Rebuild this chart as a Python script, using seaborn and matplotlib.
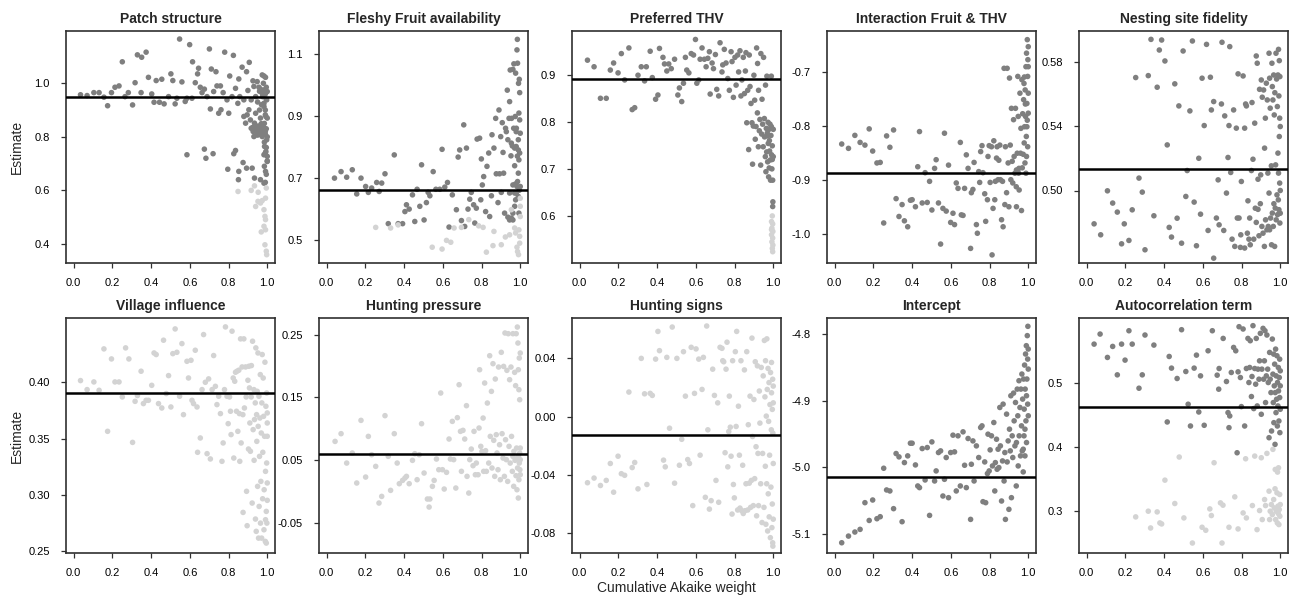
import pandas as pd
import matplotlib
matplotlib.use("Agg")
import matplotlib.pyplot as plt
import seaborn as sns

# (cumulative Akaike weight, estimate) pairs
patch_dark = [
    (0.035, 0.957), (0.069, 0.954), (0.104, 0.965), (0.131, 0.965), (0.156, 0.948), (0.175, 0.916),
    (0.195, 0.965), (0.213, 0.985), (0.234, 0.99), (0.251, 1.08), (0.265, 0.95), (0.282, 0.965),
    (0.304, 0.919), (0.317, 1.002), (0.329, 1.106), (0.351, 1.097), (0.374, 1.116), (0.348, 0.965),
    (0.386, 1.022), (0.403, 0.96), (0.415, 0.929), (0.426, 1.01), (0.443, 0.929), (0.455, 1.015),
    (0.467, 0.923), (0.49, 0.95), (0.502, 1.035), (0.512, 1.01), (0.524, 0.923), (0.533, 0.944),
    (0.547, 1.165), (0.559, 1.005), (0.576, 0.932), (0.585, 0.944), (0.599, 1.144), (0.611, 0.944),
    (0.614, 1.08), (0.628, 1.002), (0.64, 1.035), (0.645, 1.056), (0.654, 0.985), (0.663, 0.965),
    (0.675, 0.978), (0.689, 0.95), (0.701, 1.128), (0.706, 0.904), (0.711, 1.053), (0.723, 0.969),
    (0.735, 1.043), (0.74, 0.99), (0.749, 0.888), (0.758, 0.99), (0.761, 0.901), (0.772, 0.965),
    (0.78, 1.116), (0.792, 0.938), (0.801, 0.888), (0.806, 1.027), (0.818, 0.95), (0.825, 1.104),
    (0.836, 0.981), (0.848, 0.925), (0.853, 1.016), (0.858, 0.95), (0.87, 1.06), (0.879, 0.938),
    (0.893, 1.043), (0.9, 0.973), (0.907, 1.078), (0.917, 0.938), (0.926, 1.009), (0.931, 0.988),
    (0.94, 0.95), (0.948, 1.006), (0.957, 0.985), (0.965, 0.978), (0.974, 1.031), (0.983, 1.027),
    (0.991, 1.022), (0.995, 0.985), (1.0, 0.969),
    (0.585, 0.733), (0.675, 0.754), (0.683, 0.72), (0.72, 0.737), (0.796, 0.679), (0.827, 0.737),
    (0.836, 0.749), (0.853, 0.671), (0.851, 0.64), (0.875, 0.704), (0.893, 0.683), (0.922, 0.683),
    (0.934, 0.646), (0.965, 0.64), (0.983, 0.627), (0.991, 0.671), (0.983, 0.733),
    (0.879, 0.876), (0.888, 0.851), (0.896, 0.882), (0.905, 0.901), (0.913, 0.863), (0.917, 0.832),
    (0.927, 0.82), (0.934, 0.851), (0.94, 0.888), (0.948, 0.839), (0.952, 0.807), (0.962, 0.816),
    (0.965, 0.87), (0.974, 0.801), (0.979, 0.839), (0.983, 0.913), (0.986, 0.764), (0.99, 0.82),
    (0.993, 0.876), (0.997, 0.938), (0.997, 0.789), (1.0, 0.727), (1.0, 0.708), (0.993, 0.745),
    (0.983, 0.925), (0.976, 0.95), (0.983, 0.975), (0.99, 0.882), (0.969, 0.849), (0.958, 0.829),
    (0.945, 0.807), (0.931, 0.801),
    (0.99, 0.96), (0.995, 0.94), (0.99, 0.9), (1.0, 0.87), (0.985, 0.85), (0.995, 0.83),
    (0.99, 0.81), (1.0, 0.8), (0.985, 0.78), (0.995, 0.76), (0.99, 0.74), (1.0, 0.71),
    (0.985, 0.69), (0.995, 0.66), (0.99, 0.63), (0.975, 0.82), (0.965, 0.83), (0.955, 0.84),
    (0.945, 0.82), (0.935, 0.83), (0.925, 0.835), (0.96, 0.9), (0.97, 0.92), (0.95, 0.93),
    (0.98, 1.0), (0.975, 0.96), (0.96, 0.97),
]
patch_light = [
    (0.849, 0.596), (0.917, 0.6), (0.934, 0.617), (0.953, 0.593), (0.94, 0.54), (0.952, 0.559),
    (0.965, 0.553), (0.974, 0.562), (0.983, 0.528), (0.991, 0.571), (0.995, 0.609), (0.988, 0.503),
    (0.991, 0.491), (0.983, 0.466), (0.991, 0.453), (0.988, 0.397), (0.995, 0.373), (0.997, 0.36),
    (0.969, 0.445),
]

fruit_dark = [
    (0.04, 0.699), (0.074, 0.72), (0.103, 0.702), (0.132, 0.726), (0.155, 0.648), (0.177, 0.699),
    (0.201, 0.672), (0.215, 0.653), (0.232, 0.667), (0.258, 0.685), (0.271, 0.656), (0.284, 0.683),
    (0.301, 0.713), (0.318, 0.552), (0.349, 0.774), (0.369, 0.552), (0.392, 0.552), (0.404, 0.591),
    (0.412, 0.613), (0.426, 0.599), (0.443, 0.645), (0.455, 0.559), (0.467, 0.663), (0.481, 0.608),
    (0.49, 0.742), (0.503, 0.564), (0.515, 0.62), (0.524, 0.653), (0.533, 0.642), (0.55, 0.72),
    (0.564, 0.663), (0.584, 0.663), (0.596, 0.792), (0.61, 0.67), (0.624, 0.685), (0.632, 0.541),
    (0.649, 0.645), (0.67, 0.597), (0.679, 0.767), (0.687, 0.79), (0.696, 0.562), (0.708, 0.871),
    (0.713, 0.543), (0.722, 0.796), (0.73, 0.599), (0.739, 0.631), (0.747, 0.653), (0.759, 0.613),
    (0.765, 0.554), (0.773, 0.602), (0.777, 0.825), (0.79, 0.828), (0.796, 0.629), (0.799, 0.761),
    (0.804, 0.677), (0.811, 0.704), (0.821, 0.591), (0.828, 0.737), (0.837, 0.78), (0.842, 0.575),
    (0.851, 0.642), (0.854, 0.839), (0.864, 0.796), (0.873, 0.892), (0.876, 0.713), (0.885, 0.62),
    (0.89, 0.919), (0.893, 0.713), (0.899, 0.833), (0.902, 0.653), (0.907, 0.878), (0.911, 0.782),
    (0.914, 0.715), (0.919, 0.586), (0.924, 0.86), (0.928, 0.849), (0.933, 0.983), (0.936, 0.823),
    (0.942, 0.892), (0.945, 0.946), (0.948, 1.048), (0.952, 0.771), (0.955, 0.892), (0.959, 0.803),
    (0.962, 1.05), (0.966, 0.86), (0.967, 1.068), (0.971, 0.739), (0.974, 0.898), (0.976, 1.038),
    (0.979, 0.849), (0.983, 1.113), (0.985, 1.147), (0.986, 1.07), (0.99, 0.823), (0.991, 1.005),
    (0.995, 1.018), (0.997, 0.975), (0.993, 0.909), (0.997, 0.887), (1.0, 0.844), (0.997, 0.78),
    (0.993, 0.758), (0.99, 0.715), (0.986, 0.688), (0.983, 0.672), (0.979, 0.651), (0.976, 0.629),
    (0.971, 0.608), (0.962, 0.586), (0.954, 0.57), (0.945, 0.564), (0.936, 0.573), (0.962, 0.564),
    (0.993, 0.586), (1.0, 0.672), (0.971, 0.796), (0.979, 0.801), (0.962, 0.677), (0.954, 0.812),
    (0.945, 0.651), (0.971, 0.651), (0.985, 0.77), (0.99, 0.79), (0.98, 0.86), (0.995, 0.66),
    (0.99, 0.64), (0.975, 0.68),
]
fruit_light = [
    (0.253, 0.54), (0.33, 0.538), (0.369, 0.548), (0.545, 0.476), (0.596, 0.47), (0.619, 0.498),
    (0.641, 0.492), (0.658, 0.538), (0.696, 0.54), (0.734, 0.565), (0.785, 0.545), (0.808, 0.54),
    (0.825, 0.46), (0.859, 0.481), (0.864, 0.527), (0.902, 0.484), (0.923, 0.509), (0.945, 0.516),
    (0.954, 0.597), (0.971, 0.538), (0.976, 0.522), (0.983, 0.476), (0.986, 0.462), (0.991, 0.452),
    (0.997, 0.489), (0.993, 0.532), (0.997, 0.511), (1.0, 0.575), (1.0, 0.608), (1.0, 0.634),
]

thv_dark = [
    (0.04, 0.931), (0.074, 0.917), (0.107, 0.85), (0.137, 0.85), (0.158, 0.91), (0.175, 0.925),
    (0.198, 0.904), (0.215, 0.945), (0.232, 0.889), (0.254, 0.957), (0.271, 0.826), (0.284, 0.83),
    (0.301, 0.899), (0.318, 0.917), (0.335, 0.887), (0.344, 0.917), (0.364, 0.95), (0.375, 0.894),
    (0.392, 0.848), (0.404, 0.857), (0.412, 0.956), (0.43, 0.937), (0.438, 0.923), (0.45, 0.908),
    (0.46, 0.923), (0.473, 0.913), (0.49, 0.933), (0.507, 0.857), (0.515, 0.872), (0.527, 0.843),
    (0.536, 0.882), (0.546, 0.937), (0.553, 0.91), (0.564, 0.904), (0.576, 0.945), (0.588, 0.942),
    (0.598, 0.975), (0.605, 0.882), (0.615, 0.889), (0.622, 0.933), (0.632, 0.957), (0.644, 0.933),
    (0.653, 0.917), (0.662, 0.935), (0.67, 0.949), (0.674, 0.859), (0.684, 0.925), (0.691, 0.913),
    (0.701, 0.943), (0.708, 0.869), (0.718, 0.855), (0.725, 0.968), (0.735, 0.906), (0.739, 0.921),
    (0.747, 0.954), (0.756, 0.925), (0.765, 0.892), (0.773, 0.867), (0.782, 0.949), (0.787, 0.928),
    (0.794, 0.852), (0.802, 0.937), (0.808, 0.878), (0.816, 0.942), (0.821, 0.906), (0.828, 0.951),
    (0.833, 0.855), (0.838, 0.889), (0.845, 0.937), (0.851, 0.86), (0.856, 0.908), (0.859, 0.947),
    (0.863, 0.798), (0.868, 0.867), (0.873, 0.741), (0.876, 0.942), (0.88, 0.875), (0.885, 0.839),
    (0.89, 0.798), (0.893, 0.71), (0.897, 0.791), (0.9, 0.899), (0.904, 0.846), (0.907, 0.763),
    (0.911, 0.79), (0.914, 0.957), (0.918, 0.819), (0.919, 0.924), (0.923, 0.747), (0.924, 0.867),
    (0.928, 0.781), (0.931, 0.805), (0.935, 0.708), (0.936, 0.945), (0.94, 0.774), (0.942, 0.848),
    (0.945, 0.795), (0.948, 0.747), (0.95, 0.937), (0.954, 0.807), (0.955, 0.768), (0.959, 0.726),
    (0.96, 0.878), (0.962, 0.694), (0.964, 0.786), (0.966, 0.736), (0.967, 0.897), (0.969, 0.776),
    (0.971, 0.715), (0.973, 0.799), (0.974, 0.754), (0.976, 0.683), (0.978, 0.784), (0.979, 0.702),
    (0.981, 0.738), (0.983, 0.795), (0.985, 0.719), (0.986, 0.676), (0.988, 0.771), (0.99, 0.897),
    (0.991, 0.73), (0.993, 0.7), (0.995, 0.749), (0.997, 0.676), (0.998, 0.63), (0.997, 0.62),
    (1.0, 0.784), (1.0, 0.726), (0.98, 0.76), (0.99, 0.79), (0.97, 0.77), (0.995, 0.72),
]
thv_light = [
    (0.995, 0.6), (0.991, 0.588), (0.997, 0.583), (0.993, 0.574), (0.998, 0.567), (0.991, 0.56),
    (0.997, 0.553), (0.993, 0.545), (0.998, 0.538), (0.995, 0.531), (0.997, 0.524), (0.991, 0.571),
]

inter_dark = [
    (0.036, -0.834), (0.071, -0.842), (0.104, -0.818), (0.131, -0.831), (0.156, -0.836), (0.178, -0.806),
    (0.196, -0.847), (0.218, -0.869), (0.235, -0.868), (0.253, -0.98), (0.268, -0.819), (0.285, -0.84),
    (0.304, -0.808), (0.317, -0.935), (0.332, -0.968), (0.348, -0.946), (0.36, -0.976), (0.377, -0.987),
    (0.391, -0.938), (0.4, -0.937), (0.417, -0.95), (0.429, -0.876), (0.438, -0.811), (0.452, -0.943),
    (0.467, -0.887), (0.478, -0.942), (0.49, -0.903), (0.502, -0.956), (0.516, -0.879), (0.524, -0.863),
    (0.536, -0.943), (0.547, -1.019), (0.559, -0.953), (0.567, -0.814), (0.576, -0.958), (0.588, -0.873),
    (0.599, -0.979), (0.611, -0.962), (0.619, -0.983), (0.628, -0.906), (0.637, -0.916), (0.649, -0.831),
    (0.654, -0.965), (0.663, -0.966), (0.671, -0.916), (0.68, -0.854), (0.689, -0.879), (0.702, -1.027),
    (0.706, -0.924), (0.714, -0.918), (0.72, -0.868), (0.732, -0.983), (0.737, -0.999), (0.744, -0.885),
    (0.749, -0.905), (0.754, -0.848), (0.761, -0.837), (0.766, -0.887), (0.775, -0.926), (0.78, -0.977),
    (0.789, -0.937), (0.792, -0.857), (0.798, -0.837), (0.803, -0.905), (0.81, -0.839), (0.813, -1.039),
    (0.818, -0.953), (0.822, -0.828), (0.827, -0.937), (0.83, -0.903), (0.836, -0.86), (0.839, -0.839),
    (0.844, -0.9), (0.848, -0.864), (0.853, -0.836), (0.856, -0.9), (0.862, -0.974), (0.867, -0.903),
    (0.87, -0.987), (0.875, -0.694), (0.879, -0.946), (0.882, -0.839), (0.888, -0.924), (0.891, -0.694),
    (0.896, -0.869), (0.9, -0.95), (0.903, -0.712), (0.907, -0.836), (0.91, -0.9), (0.913, -0.768),
    (0.917, -0.866), (0.92, -0.906), (0.924, -0.789), (0.927, -0.857), (0.931, -0.888), (0.934, -0.768),
    (0.938, -0.913), (0.939, -0.95), (0.943, -0.851), (0.946, -0.709), (0.948, -0.783), (0.952, -0.879),
    (0.953, -0.919), (0.957, -0.74), (0.96, -0.851), (0.962, -0.805), (0.965, -0.957), (0.967, -0.715),
    (0.969, -0.878), (0.971, -0.778), (0.974, -0.853), (0.976, -0.752), (0.978, -0.722), (0.979, -0.832),
    (0.981, -0.802), (0.983, -0.869), (0.984, -0.734), (0.986, -0.783), (0.988, -0.691), (0.99, -0.82),
    (0.991, -0.666), (0.993, -0.759), (0.995, -0.641), (0.997, -0.709), (0.998, -0.678), (1.0, -0.74),
    (0.997, -0.839), (0.991, -0.857), (0.988, -0.888), (0.993, -0.802), (1.0, -0.777), (1.0, -0.654),
    (1.0, -0.691), (0.95, -0.888), (0.939, -0.882), (0.985, -0.76), (0.995, -0.79), (0.98, -0.71),
]
inter_light = []

nest_dark = [
    (0.038, 0.4793), (0.072, 0.4725), (0.107, 0.4998), (0.134, 0.4922), (0.158, 0.4866), (0.18, 0.4669),
    (0.194, 0.4793), (0.218, 0.469), (0.235, 0.488), (0.253, 0.5701), (0.27, 0.5077), (0.287, 0.499),
    (0.301, 0.4632), (0.318, 0.5713), (0.332, 0.5938), (0.347, 0.4843), (0.364, 0.5641), (0.375, 0.5872),
    (0.387, 0.5934), (0.404, 0.5804), (0.416, 0.5283), (0.426, 0.4771), (0.438, 0.4711), (0.455, 0.5662),
    (0.467, 0.4828), (0.476, 0.5525), (0.49, 0.4673), (0.498, 0.5866), (0.512, 0.4963), (0.519, 0.5124),
    (0.533, 0.5494), (0.546, 0.5928), (0.555, 0.4928), (0.567, 0.4657), (0.579, 0.52), (0.588, 0.4853),
    (0.596, 0.5697), (0.607, 0.5403), (0.619, 0.5907), (0.627, 0.4752), (0.639, 0.5703), (0.644, 0.55),
    (0.656, 0.5552), (0.656, 0.458), (0.67, 0.4829), (0.679, 0.5066), (0.684, 0.4787), (0.696, 0.5537),
    (0.699, 0.592), (0.708, 0.4752), (0.713, 0.5463), (0.722, 0.4984), (0.73, 0.5205), (0.735, 0.5403),
    (0.739, 0.5893), (0.744, 0.5112), (0.751, 0.4698), (0.759, 0.55), (0.765, 0.4653), (0.773, 0.5387),
    (0.778, 0.4829), (0.782, 0.5724), (0.787, 0.4829), (0.794, 0.4647), (0.796, 0.4725), (0.799, 0.5056),
    (0.808, 0.5711), (0.816, 0.4643), (0.816, 0.5387), (0.821, 0.5537), (0.825, 0.5525), (0.83, 0.4735),
    (0.833, 0.4936), (0.838, 0.4698), (0.842, 0.4829), (0.845, 0.4663), (0.851, 0.5124), (0.854, 0.5546),
    (0.859, 0.5194), (0.863, 0.4698), (0.868, 0.5418), (0.871, 0.489), (0.876, 0.5835), (0.876, 0.4802),
    (0.881, 0.579), (0.885, 0.507), (0.885, 0.4883), (0.89, 0.4719), (0.893, 0.5628), (0.897, 0.4918),
    (0.899, 0.5097), (0.902, 0.5686), (0.905, 0.4777), (0.907, 0.5579), (0.911, 0.4735), (0.914, 0.5624),
    (0.918, 0.4653), (0.919, 0.5263), (0.923, 0.5449), (0.924, 0.4818), (0.928, 0.5666), (0.931, 0.4756),
    (0.933, 0.5562), (0.936, 0.5108), (0.938, 0.4777), (0.942, 0.5852), (0.942, 0.4984), (0.945, 0.5697),
    (0.945, 0.4756), (0.948, 0.5511), (0.95, 0.4829), (0.954, 0.5153), (0.955, 0.4663), (0.957, 0.579),
    (0.959, 0.5645), (0.959, 0.486), (0.962, 0.5562), (0.964, 0.4777), (0.966, 0.5717), (0.967, 0.4918),
    (0.969, 0.5469), (0.971, 0.4653), (0.972, 0.5607), (0.974, 0.4891), (0.976, 0.5159), (0.978, 0.5852),
    (0.979, 0.4818), (0.981, 0.5692), (0.983, 0.4973), (0.985, 0.5521), (0.986, 0.485), (0.988, 0.5717),
    (0.988, 0.5232), (0.99, 0.4942), (0.991, 0.5876), (0.991, 0.5108), (0.993, 0.5587), (0.993, 0.4881),
    (0.995, 0.5806), (0.995, 0.5335), (0.997, 0.5046), (0.997, 0.5449), (0.998, 0.4798), (0.998, 0.5707),
    (1.0, 0.5397), (1.0, 0.5), (1.0, 0.4859),
]
nest_light = []

village_dark = []
village_light = [
    (0.035, 0.4015), (0.069, 0.3935), (0.104, 0.4003), (0.131, 0.3929), (0.156, 0.4296), (0.175, 0.3565),
    (0.195, 0.4207), (0.213, 0.4003), (0.234, 0.4003), (0.251, 0.387), (0.268, 0.4305), (0.285, 0.4207),
    (0.304, 0.3467), (0.317, 0.3831), (0.329, 0.3882), (0.348, 0.4098), (0.36, 0.3811), (0.374, 0.384),
    (0.386, 0.384), (0.403, 0.3973), (0.415, 0.426), (0.426, 0.4246), (0.438, 0.3811), (0.455, 0.3772),
    (0.464, 0.4373), (0.478, 0.39), (0.49, 0.4059), (0.502, 0.3781), (0.512, 0.4254), (0.524, 0.4473),
    (0.533, 0.4266), (0.547, 0.3876), (0.559, 0.4343), (0.567, 0.3713), (0.585, 0.4186), (0.593, 0.4038),
    (0.606, 0.4195), (0.611, 0.384), (0.619, 0.3811), (0.628, 0.4284), (0.637, 0.3781), (0.64, 0.3379),
    (0.654, 0.3506), (0.663, 0.3935), (0.671, 0.4423), (0.68, 0.4), (0.689, 0.3367), (0.697, 0.403),
    (0.706, 0.332), (0.715, 0.3935), (0.723, 0.4237), (0.732, 0.3964), (0.74, 0.3802), (0.749, 0.3876),
    (0.758, 0.3722), (0.766, 0.3299), (0.772, 0.3462), (0.779, 0.3935), (0.784, 0.4491), (0.792, 0.3876),
    (0.798, 0.3633), (0.805, 0.387), (0.81, 0.3743), (0.813, 0.3536), (0.818, 0.4453), (0.824, 0.4038),
    (0.827, 0.3328), (0.832, 0.4009), (0.836, 0.4089), (0.841, 0.3743), (0.844, 0.4098), (0.848, 0.3565),
    (0.853, 0.4107), (0.856, 0.3722), (0.858, 0.3299), (0.862, 0.4385), (0.865, 0.3462), (0.87, 0.4136),
    (0.874, 0.3713), (0.875, 0.2846), (0.879, 0.4385), (0.882, 0.3772), (0.888, 0.4136), (0.891, 0.387),
    (0.893, 0.3033), (0.896, 0.2728), (0.9, 0.4018), (0.903, 0.3408), (0.905, 0.4142), (0.908, 0.395),
    (0.91, 0.3639), (0.913, 0.3388), (0.917, 0.387), (0.918, 0.4148), (0.922, 0.2929), (0.924, 0.4364),
    (0.927, 0.358), (0.931, 0.3935), (0.932, 0.3308), (0.934, 0.3669), (0.938, 0.3817), (0.939, 0.2787),
    (0.941, 0.4305), (0.943, 0.2678), (0.945, 0.3713), (0.946, 0.3476), (0.948, 0.392), (0.95, 0.3077),
    (0.952, 0.426), (0.953, 0.3609), (0.955, 0.2618), (0.957, 0.3876), (0.958, 0.2899), (0.96, 0.3343),
    (0.962, 0.3683), (0.964, 0.4068), (0.965, 0.2751), (0.967, 0.3121), (0.969, 0.355), (0.971, 0.2618),
    (0.972, 0.3817), (0.974, 0.4246), (0.976, 0.2967), (0.977, 0.3379), (0.979, 0.4038), (0.981, 0.3698),
    (0.983, 0.2692), (0.984, 0.3047), (0.986, 0.3521), (0.988, 0.4178), (0.99, 0.2589), (0.991, 0.321),
    (0.993, 0.3787), (0.995, 0.2855), (0.997, 0.3905), (0.997, 0.3284), (0.998, 0.2751), (1.0, 0.3639),
    (1.0, 0.2953), (1.0, 0.3107), (1.0, 0.3728), (1.0, 0.3521), (0.995, 0.2574), (0.991, 0.2781),
]

pressure_dark = []
pressure_light = [
    (0.043, 0.08), (0.074, 0.0923), (0.103, 0.0455), (0.132, 0.0615), (0.155, 0.0137), (0.177, 0.1135),
    (0.201, 0.0232), (0.215, 0.088), (0.232, 0.0588), (0.253, 0.0402), (0.27, -0.0182), (0.284, -0.0076),
    (0.301, 0.121), (0.318, 0.0562), (0.33, 0.002), (0.349, 0.0923), (0.364, 0.0455), (0.375, 0.0126),
    (0.392, 0.0179), (0.404, 0.0216), (0.412, 0.0243), (0.426, 0.0126), (0.443, 0.0498), (0.455, 0.0604),
    (0.467, 0.019), (0.478, 0.0588), (0.49, 0.1082), (0.503, 0.0296), (0.52, -0.0118), (0.529, -0.0246),
    (0.533, -0.0118), (0.546, 0.0084), (0.555, 0.0179), (0.567, 0.0519), (0.579, 0.0349), (0.589, 0.1571),
    (0.598, 0.0349), (0.607, 0.0041), (0.619, 0.0307), (0.632, 0.0838), (0.639, 0.0519), (0.649, 0.1119),
    (0.656, 0.0509), (0.667, 0.0057), (0.675, 0.1178), (0.684, 0.1703), (0.691, 0.096), (0.696, 0.0323),
    (0.704, 0.0976), (0.713, 0.0838), (0.722, 0.1369), (0.725, 0.0243), (0.734, -0.0023), (0.739, 0.0509),
    (0.747, 0.0678), (0.756, 0.0413), (0.761, 0.096), (0.768, 0.0269), (0.773, 0.0455), (0.782, 0.0269),
    (0.787, 0.1013), (0.79, 0.1942), (0.796, 0.0721), (0.802, 0.0641), (0.808, 0.1172), (0.811, 0.0323),
    (0.816, 0.173), (0.821, 0.0652), (0.825, 0.0323), (0.83, 0.1411), (0.837, 0.0455), (0.842, 0.2165),
    (0.845, 0.088), (0.851, 0.1597), (0.854, 0.0376), (0.859, 0.2038), (0.863, 0.0817), (0.868, 0.0243),
    (0.871, 0.1794), (0.876, 0.0907), (0.88, 0.0615), (0.885, 0.0349), (0.888, 0.1985), (0.893, 0.0747),
    (0.897, 0.019), (0.902, 0.2219), (0.906, 0.0923), (0.911, 0.0535), (0.914, 0.1995), (0.918, 0.0243),
    (0.921, 0.2527), (0.924, 0.0827), (0.928, 0.0509), (0.931, 0.1932), (0.935, 0.0163), (0.938, 0.2516),
    (0.942, 0.0721), (0.945, 0.1783), (0.948, 0.0455), (0.952, 0.1985), (0.955, 0.088), (0.959, 0.0323),
    (0.962, 0.2516), (0.966, 0.0084), (0.967, 0.0641), (0.971, 0.19), (0.973, 0.0498), (0.976, 0.1688),
    (0.978, 0.0254), (0.979, 0.2516), (0.981, 0.0694), (0.983, 0.003), (0.985, 0.2622), (0.986, 0.0376),
    (0.988, 0.2367), (0.99, 0.1942), (0.99, -0.0102), (0.991, 0.0562), (0.993, 0.1624), (0.993, 0.019),
    (0.995, 0.2128), (0.997, 0.1464), (0.997, 0.0615), (0.998, 0.0349), (1.0, 0.0509), (1.0, 0.2208),
    (1.0, 0.0694), (1.0, 0.0269), (0.995, 0.0455), (0.986, 0.0535), (0.962, 0.0562),
]

signs_dark = []
signs_light = [
    (0.04, -0.0453), (0.074, -0.0421), (0.107, -0.0472), (0.137, -0.0437), (0.158, -0.0321), (0.175, -0.0518),
    (0.198, -0.0271), (0.215, -0.0391), (0.232, -0.0402), (0.254, 0.0169), (0.271, -0.0349), (0.284, -0.0314),
    (0.301, -0.0495), (0.318, 0.04), (0.335, 0.0157), (0.347, -0.0465), (0.364, 0.016), (0.375, 0.0146),
    (0.392, 0.0395), (0.404, 0.0585), (0.412, 0.0453), (0.433, -0.0298), (0.442, -0.0344), (0.45, 0.0407),
    (0.464, -0.0079), (0.478, 0.0615), (0.49, -0.0456), (0.502, 0.04), (0.515, -0.0333), (0.527, -0.0155),
    (0.536, 0.0446), (0.546, 0.0141), (0.558, -0.0294), (0.567, -0.0321), (0.576, 0.0476), (0.584, -0.061),
    (0.593, 0.016), (0.601, 0.0465), (0.615, 0.0395), (0.622, -0.0264), (0.632, 0.0187), (0.639, 0.0407),
    (0.649, -0.0553), (0.656, 0.0622), (0.662, -0.009), (0.67, -0.0634), (0.679, -0.0576), (0.687, 0.0326),
    (0.696, 0.0146), (0.704, -0.0437), (0.713, 0.0095), (0.718, -0.0587), (0.725, 0.0476), (0.735, 0.0469),
    (0.739, 0.0384), (0.744, 0.0377), (0.751, -0.0247), (0.756, 0.0326), (0.761, 0.0511), (0.765, -0.0344),
    (0.77, -0.0102), (0.773, 0.0141), (0.778, -0.0072), (0.782, -0.0271), (0.787, -0.0668), (0.79, 0.0384),
    (0.794, -0.0465), (0.799, -0.0557), (0.804, 0.0446), (0.808, -0.0067), (0.811, 0.0585), (0.816, -0.064),
    (0.82, 0.0072), (0.825, -0.0264), (0.828, -0.0627), (0.833, 0.0384), (0.837, -0.0645), (0.842, -0.0333),
    (0.845, -0.0664), (0.851, 0.0321), (0.854, -0.0645), (0.859, -0.046), (0.863, 0.0446), (0.868, -0.064),
    (0.871, -0.0055), (0.876, -0.0456), (0.88, 0.0141), (0.883, -0.0622), (0.887, -0.0437), (0.89, 0.0539),
    (0.893, -0.0136), (0.897, -0.061), (0.9, 0.0118), (0.904, -0.0425), (0.907, 0.0377), (0.911, -0.0206),
    (0.914, -0.068), (0.918, 0.0349), (0.921, -0.0252), (0.924, -0.061), (0.928, 0.0176), (0.931, -0.0044),
    (0.935, -0.046), (0.938, 0.0338), (0.942, -0.0726), (0.945, -0.0252), (0.948, 0.028), (0.952, -0.0622),
    (0.954, 0.0523), (0.957, 0.0136), (0.959, -0.034), (0.96, 0.0384), (0.962, -0.0738), (0.964, 0.0004),
    (0.966, -0.046), (0.967, 0.0534), (0.969, 0.0187), (0.971, -0.0784), (0.973, 0.0331), (0.974, -0.0529),
    (0.976, -0.0032), (0.978, 0.0234), (0.979, -0.0687), (0.981, -0.0264), (0.983, 0.0083), (0.985, -0.083),
    (0.986, 0.0303), (0.988, -0.0483), (0.99, -0.009), (0.991, 0.0164), (0.993, -0.0761), (0.995, 0.005),
    (0.995, -0.0599), (0.997, -0.0865), (0.997, 0.0257), (0.998, -0.0113), (1.0, -0.0321), (1.0, 0.0095),
    (1.0, -0.0703), (1.0, 0.021), (0.998, -0.0888), (0.991, 0.0372),
]

intercept_dark = [
    (0.036, -5.1136), (0.071, -5.1036), (0.104, -5.0975), (0.131, -5.0935), (0.156, -5.0534), (0.178, -5.0801),
    (0.196, -5.0494), (0.218, -5.0775), (0.235, -5.0745), (0.253, -5.0017), (0.268, -5.0343), (0.285, -5.0358),
    (0.304, -5.0624), (0.317, -4.9796), (0.332, -4.9846), (0.348, -5.082), (0.36, -4.9932), (0.377, -4.9831),
    (0.391, -4.9641), (0.4, -4.9641), (0.417, -4.9967), (0.429, -5.0283), (0.438, -5.0308), (0.452, -4.9721),
    (0.467, -5.0193), (0.478, -4.9706), (0.49, -5.0725), (0.502, -4.9621), (0.516, -5.0208), (0.524, -5.0057),
    (0.536, -4.9781), (0.547, -4.9756), (0.559, -5.0434), (0.567, -5.0183), (0.576, -4.9856), (0.588, -5.0459),
    (0.599, -4.9781), (0.611, -4.952), (0.619, -4.9771), (0.628, -5.0358), (0.637, -4.953), (0.649, -5.0283),
    (0.663, -4.947), (0.671, -4.9972), (0.68, -5.0308), (0.689, -4.957), (0.702, -5.0785), (0.706, -4.9957),
    (0.714, -4.9606), (0.72, -5.0208), (0.732, -4.9681), (0.744, -4.9856), (0.754, -4.9405), (0.761, -4.938),
    (0.766, -5.0519), (0.775, -4.9922), (0.78, -5.0534), (0.789, -5.0097), (0.792, -4.9505), (0.798, -5.0057),
    (0.803, -4.9741), (0.81, -4.953), (0.815, -4.9982), (0.822, -4.933), (0.827, -5.0358), (0.83, -4.9932),
    (0.836, -4.9581), (0.839, -5.0032), (0.844, -4.9731), (0.848, -5.0007), (0.853, -4.9104), (0.856, -4.9681),
    (0.862, -5.0509), (0.867, -4.9907), (0.87, -4.9054), (0.875, -5.0208), (0.879, -4.9781), (0.882, -5.0785),
    (0.888, -4.9204), (0.891, -4.9922), (0.896, -4.9606), (0.9, -5.0634), (0.903, -4.943), (0.907, -4.9756),
    (0.91, -4.8928), (0.913, -5.0459), (0.917, -4.953), (0.92, -4.9856), (0.924, -4.8888), (0.927, -4.9305),
    (0.931, -4.9681), (0.934, -4.9029), (0.938, -5.0283), (0.939, -4.9631), (0.943, -4.8828), (0.946, -4.9229),
    (0.948, -4.9982), (0.952, -4.8702), (0.953, -4.953), (0.957, -4.9104), (0.96, -4.9831), (0.962, -4.8828),
    (0.965, -4.938), (0.967, -4.8602), (0.969, -4.9756), (0.971, -4.8978), (0.974, -5.0072), (0.976, -4.8677),
    (0.978, -4.953), (0.979, -4.9129), (0.981, -4.8467), (0.983, -4.9831), (0.984, -4.8828), (0.986, -4.8301),
    (0.988, -4.9305), (0.99, -4.8176), (0.991, -4.9631), (0.993, -4.8677), (0.995, -4.8025), (0.997, -4.9054),
    (0.997, -4.8377), (0.998, -4.7885), (1.0, -4.8527), (1.0, -4.9229), (1.0, -4.8226), (0.991, -4.8928),
    (0.983, -4.943), (0.974, -4.9731),
]
intercept_light = []

auto_dark = [
    (0.038, 0.56), (0.069, 0.5757), (0.107, 0.5392), (0.134, 0.5564), (0.158, 0.512), (0.18, 0.56),
    (0.198, 0.535), (0.218, 0.5809), (0.235, 0.56), (0.27, 0.4911), (0.287, 0.512), (0.301, 0.5742),
    (0.347, 0.5585), (0.426, 0.5407), (0.416, 0.4384), (0.438, 0.5225), (0.467, 0.5063), (0.49, 0.5825),
    (0.512, 0.5172), (0.524, 0.4661), (0.536, 0.4321), (0.555, 0.5225), (0.567, 0.5428), (0.579, 0.454),
    (0.588, 0.5104), (0.607, 0.4332), (0.627, 0.5496), (0.649, 0.5809), (0.674, 0.5115), (0.682, 0.4896),
    (0.684, 0.5219), (0.705, 0.5689), (0.722, 0.5016), (0.73, 0.453), (0.739, 0.4478), (0.735, 0.4295),
    (0.747, 0.5157), (0.759, 0.5548), (0.77, 0.5496), (0.777, 0.3903), (0.782, 0.5167), (0.787, 0.5872),
    (0.794, 0.5078), (0.799, 0.4624), (0.808, 0.5836), (0.816, 0.4321), (0.825, 0.5219), (0.833, 0.5689),
    (0.838, 0.5), (0.842, 0.5235), (0.845, 0.5653), (0.851, 0.4781), (0.854, 0.5094), (0.859, 0.5888),
    (0.863, 0.4593), (0.868, 0.5219), (0.873, 0.4974), (0.876, 0.5689), (0.881, 0.4634), (0.885, 0.5209),
    (0.89, 0.5052), (0.893, 0.5339), (0.897, 0.5768), (0.902, 0.4504), (0.905, 0.5209), (0.911, 0.5846),
    (0.914, 0.5052), (0.918, 0.5339), (0.921, 0.5809), (0.924, 0.4687), (0.928, 0.5104), (0.931, 0.5742),
    (0.935, 0.5209), (0.938, 0.5), (0.942, 0.4138), (0.945, 0.547), (0.948, 0.5052), (0.952, 0.4843),
    (0.955, 0.4243), (0.959, 0.5679), (0.962, 0.5131), (0.964, 0.4687), (0.966, 0.5444), (0.967, 0.4373),
    (0.969, 0.4948), (0.971, 0.5287), (0.973, 0.4034), (0.974, 0.4843), (0.976, 0.5522), (0.978, 0.453),
    (0.979, 0.5104), (0.981, 0.4739), (0.983, 0.5418), (0.985, 0.4321), (0.986, 0.5), (0.988, 0.4634),
    (0.99, 0.5235), (0.991, 0.4869), (0.993, 0.4399), (0.995, 0.5078), (0.997, 0.4765), (0.997, 0.5365),
    (0.998, 0.4217), (1.0, 0.4948), (1.0, 0.4582), (1.0, 0.5183),
]
auto_light = [
    (0.478, 0.3836), (0.658, 0.3747), (0.404, 0.3475), (0.253, 0.2901), (0.318, 0.299), (0.33, 0.2728),
    (0.364, 0.2979), (0.378, 0.2807), (0.387, 0.2791), (0.455, 0.311), (0.502, 0.2885), (0.546, 0.2493),
    (0.596, 0.2739), (0.615, 0.2692), (0.636, 0.3026), (0.644, 0.2922), (0.691, 0.312), (0.704, 0.3084),
    (0.699, 0.2493), (0.735, 0.2739), (0.765, 0.3214), (0.782, 0.2713), (0.808, 0.2963), (0.821, 0.3809),
    (0.825, 0.2885), (0.868, 0.3851), (0.856, 0.3078), (0.88, 0.2702), (0.893, 0.3), (0.902, 0.3825),
    (0.907, 0.2859), (0.919, 0.3172), (0.924, 0.3078), (0.931, 0.3893), (0.942, 0.3303), (0.945, 0.2859),
    (0.948, 0.299), (0.954, 0.3094), (0.959, 0.2937), (0.962, 0.3956), (0.966, 0.3172), (0.969, 0.3042),
    (0.973, 0.334), (0.974, 0.3642), (0.976, 0.2859), (0.979, 0.299), (0.983, 0.3277), (0.985, 0.2807),
    (0.986, 0.3601), (0.988, 0.3068), (0.99, 0.2953), (0.991, 0.3668), (0.993, 0.2781), (0.995, 0.3016),
    (0.997, 0.3251), (0.998, 0.2911), (1.0, 0.3094),
]

titles = ["Patch structure", "Fleshy Fruit availability", "Preferred THV", "Interaction Fruit & THV",
          "Nesting site fidelity", "Village influence", "Hunting pressure", "Hunting signs",
          "Intercept", "Autocorrelation term"]
dark_sets = [patch_dark, fruit_dark, thv_dark, inter_dark, nest_dark,
             village_dark, pressure_dark, signs_dark, intercept_dark, auto_dark]
light_sets = [patch_light, fruit_light, thv_light, inter_light, nest_light,
              village_light, pressure_light, signs_light, intercept_light, auto_light]
mean_estimates = [0.948, 0.661, 0.8915, -0.887, 0.5133, 0.3906, 0.060, -0.0125, -5.015, 0.461]
y_limits = [(0.329, 1.195), (0.425, 1.174), (0.50, 0.993), (-1.054, -0.625), (0.455, 0.599),
            (0.2486, 0.457), (-0.0978, 0.2766), (-0.0935, 0.0677), (-5.129, -4.776), (0.2337, 0.6008)]
y_ticks = [[0.4, 0.6, 0.8, 1.0], [0.5, 0.7, 0.9, 1.1], [0.6, 0.7, 0.8, 0.9], [-1.0, -0.9, -0.8, -0.7],
           [0.50, 0.54, 0.58], [0.25, 0.30, 0.35, 0.40], [-0.05, 0.05, 0.15, 0.25],
           [-0.08, -0.04, 0.00, 0.04], [-5.1, -5.0, -4.9, -4.8], [0.3, 0.4, 0.5]]
y_tick_labels = [["0.4", "0.6", "0.8", "1.0"], ["0.5", "0.7", "0.9", "1.1"], ["0.6", "0.7", "0.8", "0.9"],
                 ["-1.0", "-0.9", "-0.8", "-0.7"], ["0.50", "0.54", "0.58"], ["0.25", "0.30", "0.35", "0.40"],
                 ["-0.05", "0.05", "0.15", "0.25"], ["-0.08", "-0.04", "0.00", "0.04"],
                 ["-5.1", "-5.0", "-4.9", "-4.8"], ["0.3", "0.4", "0.5"]]
x_ticks = [0.0, 0.2, 0.4, 0.6, 0.8, 1.0]
x_tick_labels = ["0.0", "0.2", "0.4", "0.6", "0.8", "1.0"]

DARK = "#7f7f7f"
LIGHT = "#d3d3d3"
FRAME = "#303030"

sns.set_style("ticks")
plt.rcParams["font.family"] = ["Liberation Sans", "DejaVu Sans"]

W, H = 1298, 599
fig = plt.figure(figsize=(W / 100, H / 100), dpi=100)

col_left = [66, 319, 572, 827, 1079]
col_width = 209
row_top = [31, 318]
row_bottom = [263, 553]

for i, title in enumerate(titles):
    r, c = divmod(i, 5)
    ax = fig.add_axes([col_left[c] / W, 1 - row_bottom[r] / H,
                       col_width / W, (row_bottom[r] - row_top[r]) / H])
    pts = dark_sets[i] + light_sets[i]
    df = pd.DataFrame(pts, columns=["weight", "estimate"])
    df["group"] = ["dark"] * len(dark_sets[i]) + ["light"] * len(light_sets[i])
    sns.scatterplot(data=df, x="weight", y="estimate", hue="group",
                    palette={"dark": DARK, "light": LIGHT}, s=16, linewidth=0,
                    legend=False, ax=ax, zorder=2)
    ax.axhline(mean_estimates[i], color="black", lw=1.8, zorder=3)

    ax.set_xlim(-0.04, 1.04)
    ax.set_ylim(*y_limits[i])
    ax.set_xticks(x_ticks)
    ax.set_xticklabels(x_tick_labels)
    ax.set_yticks(y_ticks[i])
    ax.set_yticklabels(y_tick_labels[i])
    ax.tick_params(direction="out", length=3.6, width=0.9, color=FRAME,
                   labelsize=8, labelcolor="black")
    ax.tick_params(axis="x", pad=7.5)
    ax.tick_params(axis="y", pad=8)
    for sp in ax.spines.values():
        sp.set_visible(True)
        sp.set_color(FRAME)
        sp.set_linewidth(1.2)
    ax.set_title(title, fontsize=10, fontweight="bold", pad=6)
    ax.set_xlabel("Cumulative Akaike weight" if i == 7 else "", fontsize=10, labelpad=2)
    if c == 0:
        ax.set_ylabel("Estimate", fontsize=10)
        ax.yaxis.set_label_coords((24 - col_left[0]) / col_width, 0.5)
    else:
        ax.set_ylabel("")

fig.savefig("out.png", dpi=100)
